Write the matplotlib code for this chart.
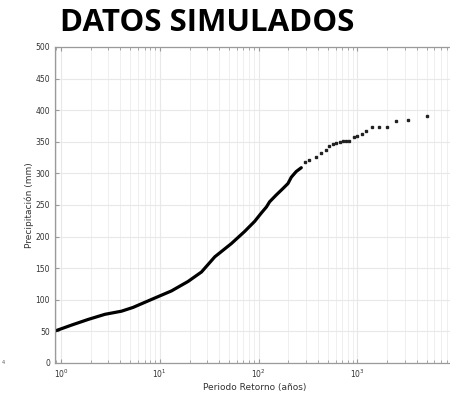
import numpy as np
import matplotlib.pyplot as plt
from matplotlib.ticker import LogLocator, NullFormatter, MultipleLocator

# curva densa (periodo de retorno en años, precipitacion en mm)
T_curve = [0.87, 1.28, 1.89, 2.78, 4.1, 5.37, 7.05, 9.6, 13.1, 19.3, 26.4, 36,
           53, 72, 91, 106, 120, 129, 151, 176, 198, 214, 240, 270]
P_curve = [50.6, 60, 69, 77, 82, 88, 96, 105, 114, 129, 144, 168,
           189, 208, 224, 237, 247, 255, 266, 276, 284, 294, 303, 309]

# cola con puntos sueltos
T_tail = [292, 327, 383, 430, 475, 521, 564, 609, 658, 710, 769, 830, 912,
          1000, 1105, 1224, 1419, 1641, 1977, 2480, 3270, 5060]
P_tail = [318, 321, 326, 332, 337, 343, 346, 348, 350, 351, 351, 352, 358,
          359, 363, 367, 373, 373, 373, 383, 384, 391]

fig = plt.figure(figsize=(4.5, 3.93), dpi=100)
# el eje derecho queda fuera de la imagen, como en el original recortado
ax = fig.add_axes([55/450, 1-363/393, (455-55)/450, (363-47)/393])

ax.plot(T_curve, P_curve, color='black', lw=2.3, solid_capstyle='round')
ax.plot(T_tail, P_tail, ls='none', marker='s', ms=1.6, color='#222222')

ax.set_xscale('log')
ax.set_xlim(0.87, 9700)
ax.set_ylim(0, 500)
ax.yaxis.set_major_locator(MultipleLocator(50))
ax.xaxis.set_major_locator(LogLocator(base=10, numticks=10))
ax.xaxis.set_minor_locator(LogLocator(base=10, subs=np.arange(2, 10), numticks=20))
ax.xaxis.set_minor_formatter(NullFormatter())

ax.grid(True, which='major', color='#e8e8e8', lw=0.8)
ax.grid(True, which='minor', axis='x', color='#efefef', lw=0.7)
ax.set_axisbelow(True)

for s in ax.spines.values():
    s.set_color('#9a9a9a')
    s.set_linewidth(0.9)
ax.tick_params(which='both', direction='in', top=True, right=True,
               colors='#9a9a9a', labelcolor='#333333', labelsize=5.5)
ax.tick_params(which='major', length=3)
ax.tick_params(which='minor', length=2)

ax.set_xlabel('Periodo Retorno (años)', fontsize=6.5, color='#333333', labelpad=2)
ax.set_ylabel('Precipitación (mm)', fontsize=6.5, color='#333333', labelpad=1)

fig.text(207/450, 1-23/393, 'DATOS SIMULADOS', ha='center', va='center',
         fontsize=22.5, fontweight='bold', family='Open Sans')
fig.text(2/450, 1-362/393, '4', fontsize=3.5, color='#555555', va='center')

fig.savefig('out.png', dpi=100)
